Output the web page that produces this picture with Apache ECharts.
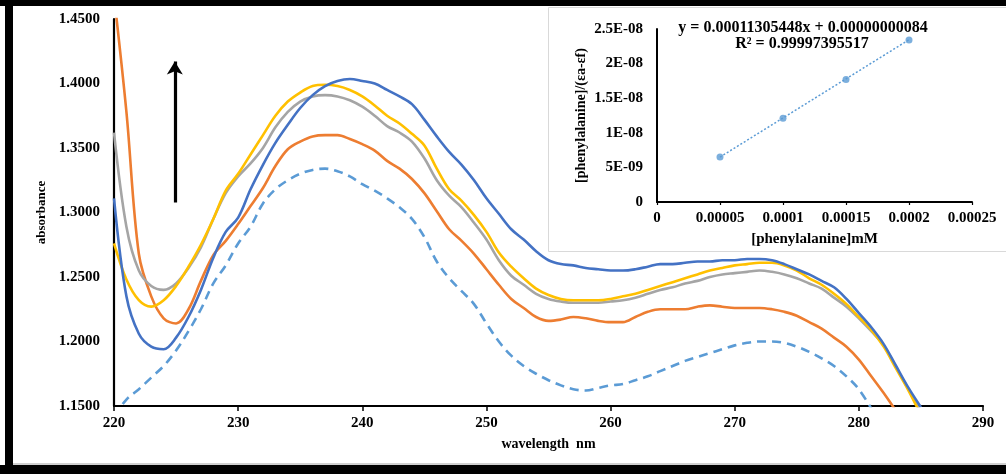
<!DOCTYPE html>
<html>
<head>
<meta charset="utf-8">
<script src="https://cdn.jsdelivr.net/npm/echarts@6/dist/echarts.min.js"></script>
<style>
html,body{margin:0;padding:0;background:#fff;}
#chart{width:1006px;height:474px;}
</style>
</head>
<body>
<div id="chart"></div>
<script>
// ---- Main spectrum data (wavelength nm -> absorbance) ----
const wavelength = [220,221,222,223,224,225,226,227,228,229,230,231,232,233,234,235,236,237,238,239,240,241,242,243,244,245,246,247,248,249,250,251,252,253,254,255,256,257,258,259,260,261,262,263,264,265,266,267,268,269,270,271,272,273,274,275,276,277,278,279,280,281,282,283,284,285];

const absDashed = [1.142,1.155,1.163,1.172,1.181,1.193,1.208,1.225,1.245,1.259,1.276,1.289,1.307,1.318,1.325,1.330,1.333,1.334,1.332,1.328,1.322,1.317,1.311,1.304,1.295,1.281,1.262,1.249,1.239,1.229,1.214,1.200,1.189,1.181,1.175,1.170,1.166,1.163,1.162,1.164,1.166,1.167,1.170,1.173,1.177,1.181,1.185,1.188,1.191,1.194,1.197,1.199,1.200,1.200,1.199,1.196,1.192,1.187,1.181,1.173,1.163,1.148];

const absOrange = [1.468,1.378,1.268,1.235,1.218,1.214,1.225,1.247,1.267,1.278,1.291,1.305,1.319,1.336,1.349,1.355,1.359,1.360,1.360,1.357,1.353,1.348,1.340,1.334,1.326,1.315,1.301,1.287,1.278,1.268,1.256,1.244,1.233,1.226,1.219,1.216,1.217,1.219,1.218,1.216,1.215,1.215,1.219,1.223,1.225,1.225,1.225,1.227,1.228,1.227,1.226,1.226,1.226,1.225,1.223,1.220,1.215,1.210,1.203,1.196,1.186,1.173,1.160,1.146];

const absGray = [1.362,1.289,1.255,1.243,1.240,1.245,1.257,1.273,1.295,1.315,1.328,1.338,1.350,1.366,1.378,1.386,1.390,1.391,1.390,1.387,1.382,1.375,1.367,1.362,1.355,1.342,1.325,1.313,1.304,1.292,1.279,1.263,1.251,1.244,1.237,1.233,1.231,1.230,1.230,1.230,1.231,1.232,1.234,1.237,1.240,1.242,1.245,1.247,1.250,1.252,1.253,1.254,1.255,1.254,1.252,1.249,1.245,1.241,1.234,1.227,1.218,1.208,1.197,1.180,1.163,1.145];

const absYellow = [1.276,1.248,1.232,1.227,1.232,1.243,1.258,1.275,1.295,1.317,1.330,1.345,1.360,1.375,1.386,1.393,1.398,1.399,1.398,1.395,1.390,1.383,1.375,1.369,1.361,1.352,1.334,1.318,1.309,1.298,1.285,1.269,1.258,1.249,1.241,1.236,1.233,1.232,1.232,1.232,1.233,1.235,1.237,1.240,1.243,1.246,1.249,1.252,1.255,1.257,1.259,1.260,1.261,1.261,1.259,1.255,1.249,1.244,1.237,1.229,1.219,1.209,1.196,1.179,1.162,1.143];

const absBlue = [1.311,1.235,1.206,1.196,1.194,1.203,1.219,1.240,1.265,1.285,1.296,1.318,1.337,1.354,1.368,1.381,1.391,1.398,1.402,1.4035,1.402,1.400,1.395,1.390,1.384,1.372,1.359,1.347,1.337,1.325,1.311,1.299,1.287,1.279,1.270,1.263,1.260,1.259,1.257,1.256,1.255,1.255,1.256,1.258,1.260,1.260,1.261,1.262,1.262,1.263,1.263,1.264,1.264,1.263,1.260,1.256,1.252,1.247,1.242,1.233,1.222,1.211,1.198,1.181,1.164,1.149];

const mainYTicks = ['1.1500','1.2000','1.2500','1.3000','1.3500','1.4000','1.4500'];

// arrow annotation (data coords)
const arrowX = 224.9;
const arrowY = [1.3077, 1.4171];

// ---- Inset data ----
const insetX = [0.00005, 0.0001, 0.00015, 0.0002];
const insetY = [6.5e-9, 1.21e-8, 1.77e-8, 2.34e-8];
const trendX = [0.00005, 0.0002];
const trendY = [6.49e-9, 2.345e-8];
const insetXTicks = ['0','0.00005','0.0001','0.00015','0.0002','0.00025'];
const insetYTicks = ['0','5E-09','1E-08','1.5E-08','2E-08','2.5E-08'];
const equationText = 'y = 0.00011305448x + 0.00000000084';
const r2Text = 'R² = 0.99997395517';

function pair(xs, ys){ return ys.map((v,i)=>[xs[i], v]); }

const FONT = '"Liberation Serif","Times New Roman",serif';
const chart = echarts.init(document.getElementById('chart'), null, {renderer:'canvas'});

const lineSeries = (name, data, color, dashed) => ({
  name, type:'line', xAxisIndex:0, yAxisIndex:0,
  data: pair(wavelength, data),
  smooth: 0.35, showSymbol:false, symbol:'none', clip:true, z:2,
  lineStyle:{color, width:2.6, type: dashed ? [9,6] : 'solid', cap:'butt'}
});

const option = {
  backgroundColor:'#ffffff',
  animation:false,
  grid:[
    {left:114, right:23, top:19, bottom:68},
    {left:657, right:34, top:29, bottom:272, z:5}
  ],
  xAxis:[
    {type:'value', gridIndex:0, min:220, max:290, interval:10,
     name:'wavelength  nm', nameLocation:'middle', nameGap:31,
     nameTextStyle:{fontFamily:FONT, fontWeight:'bold', fontSize:14, color:'#000'},
     axisLine:{show:true, onZero:false, lineStyle:{color:'#000', width:2.2}},
     axisTick:{show:true, length:5, lineStyle:{color:'#000', width:1.5}},
     axisLabel:{fontFamily:FONT, fontWeight:'bold', fontSize:15, color:'#000', margin:10},
     splitLine:{show:false}},
    {type:'value', gridIndex:1, min:0, max:0.00025, interval:0.00005, z:6,
     name:'[phenylalanine]mM', nameLocation:'middle', nameGap:30,
     nameTextStyle:{fontFamily:FONT, fontWeight:'bold', fontSize:15, color:'#000'},
     axisLine:{show:true, onZero:false, lineStyle:{color:'#000', width:2}},
     axisTick:{show:true, length:3, lineStyle:{color:'#000', width:1.2}},
     axisLabel:{fontFamily:FONT, fontWeight:'bold', fontSize:15, color:'#000', margin:9,
       formatter:(v)=>insetXTicks[Math.round(v/0.00005)] ?? ''},
     splitLine:{show:false}}
  ],
  yAxis:[
    {type:'value', gridIndex:0, min:1.15, max:1.45, interval:0.05,
     name:'absorbance', nameLocation:'middle', nameGap:65, nameRotate:90,
     nameTextStyle:{fontFamily:FONT, fontWeight:'bold', fontSize:13, color:'#000'},
     axisLine:{show:true, onZero:false, lineStyle:{color:'#000', width:2.2}},
     axisTick:{show:false},
     axisLabel:{fontFamily:FONT, fontWeight:'bold', fontSize:15, color:'#000', margin:14,
       formatter:(v)=>mainYTicks[Math.round((v-1.15)/0.05)] ?? ''},
     splitLine:{show:false}},
    {type:'value', gridIndex:1, min:0, max:2.5e-8, interval:5e-9, z:6,
     name:'[phenylalanine]/(εa-εf)', nameLocation:'middle', nameGap:69, nameRotate:90,
     nameTextStyle:{fontFamily:FONT, fontWeight:'bold', fontSize:14, color:'#000'},
     axisLine:{show:true, onZero:false, lineStyle:{color:'#000', width:2}},
     axisTick:{show:false},
     axisLabel:{fontFamily:FONT, fontWeight:'bold', fontSize:15, color:'#000', margin:14,
       formatter:(v)=>insetYTicks[Math.round(v/5e-9)] ?? ''},
     splitLine:{show:false}}
  ],
  graphic:[
    {type:'rect', z:3, shape:{x:548.5, y:7.5, width:470, height:244},
     style:{fill:'#ffffff', stroke:'#d9d9d9', lineWidth:1}},
    {type:'text', z:10, x:803, y:28,
     style:{text:equationText, fontFamily:FONT, fontWeight:'bold', fontSize:16, fill:'#000',
       textAlign:'center', textVerticalAlign:'middle'}},
    {type:'text', z:10, x:802, y:44,
     style:{text:r2Text, fontFamily:FONT, fontWeight:'bold', fontSize:16, fill:'#000',
       textAlign:'center', textVerticalAlign:'middle'}},
    // outer black frame
    {type:'rect', z:100, shape:{x:0, y:0, width:1006, height:6}, style:{fill:'#000'}},
    {type:'rect', z:100, shape:{x:5, y:0, width:8, height:474}, style:{fill:'#000'}},
    {type:'rect', z:100, shape:{x:0, y:465, width:1006, height:9}, style:{fill:'#000'}},
    {type:'rect', z:99, shape:{x:13, y:463, width:993, height:2}, style:{fill:'#d0d0d0'}}
  ],
  series:[
    lineSeries('s0', absDashed, '#5B9BD5', true),
    lineSeries('s1', absOrange, '#ED7D31', false),
    lineSeries('s2', absGray, '#A5A5A5', false),
    lineSeries('s3', absYellow, '#FFC000', false),
    Object.assign(lineSeries('s4', absBlue, '#4472C4', false), {
      markLine:{
        silent:true, symbol:['none','arrow'], symbolSize:[12,13],
        label:{show:false},
        lineStyle:{color:'#000', width:3.2, type:'solid'},
        data:[[{coord:[arrowX, arrowY[0]]},{coord:[arrowX, arrowY[1]]}]]
      }
    }),
    {name:'trend', type:'line', xAxisIndex:1, yAxisIndex:1, z:7,
     data: pair(trendX, trendY), showSymbol:false, symbol:'none',
     lineStyle:{color:'#5B9BD5', width:1.5, type:[2,2]}},
    {name:'points', type:'scatter', xAxisIndex:1, yAxisIndex:1, z:8,
     data: pair(insetX, insetY), symbol:'circle', symbolSize:7,
     itemStyle:{color:'#5B9BD5'}}
  ]
};
chart.setOption(option);
</script>
</body>
</html>
